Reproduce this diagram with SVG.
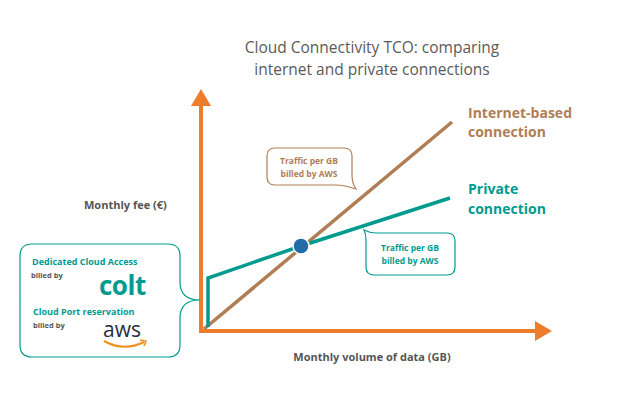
<svg xmlns="http://www.w3.org/2000/svg" width="617" height="417" viewBox="0 0 617 417">
<style>
text{font-family:"Open Sans","Liberation Sans",sans-serif}
.t{font-size:15.5px;fill:#5a5a5a;text-anchor:middle}
.g{font-size:11px;font-weight:bold;fill:#555}
.s{font-size:8.5px;font-weight:bold}
.lb{font-size:14px;font-weight:bold}
</style>
<rect width="617" height="417" fill="#fff"/>
<g id="connectors" fill="none" stroke-width="3.5">
<line x1="204" y1="329" x2="452" y2="122" stroke="#b07e55"/>
<polyline points="208,327 208,278 301,246 450,198" stroke="#009b8f"/>
<polyline points="201,100 201,331 540,331" stroke="#ee7d2b" stroke-width="4"/>
<polygon points="201,89 191,106 211,106" fill="#ee7d2b" stroke="none"/>
<polygon points="552,331 535,321 535,341" fill="#ee7d2b" stroke="none"/>
</g>
<g id="dot"><circle cx="301" cy="246" r="8" fill="#1f6ca8" stroke="#fff" stroke-width="1.5"/></g>
<g id="title"><text class="t" x="372" y="53">Cloud Connectivity TCO: comparing</text><text class="t" x="372" y="75">internet and private connections</text></g>
<g id="internet"><text class="lb" x="468" y="118" fill="#b07e55">Internet-based</text><text class="lb" x="468" y="137" fill="#b07e55">connection</text></g>
<g id="private"><text class="lb" x="468" y="194" fill="#009b8f">Private</text><text class="lb" x="468" y="214" fill="#009b8f">connection</text></g>
<g id="yaxis"><text class="g" x="84" y="209">Monthly fee (€)</text></g>
<g id="xaxis"><text class="g" x="372" y="361" text-anchor="middle">Monthly volume of data (GB)</text></g>
<g id="callout-brown">
<path d="M275,148 H344 Q352,148 352,156 V175 Q352,183 356,189 Q344,185 336,185 H275 Q267,185 267,177 V156 Q267,148 275,148 Z" fill="#fff" stroke="#b07e55" stroke-width="1.2"/>
<text class="s" fill="#b07e55" x="309" y="164" text-anchor="middle">Traffic per GB</text>
<text class="s" fill="#b07e55" x="309" y="177" text-anchor="middle">billed by AWS</text>
</g>
<g id="callout-teal">
<path d="M364,230 Q370,233 376,233 H447 Q455,233 455,241 V267 Q455,275 447,275 H374 Q366,275 366,267 V240 Q366,234 364,230 Z" fill="#fff" stroke="#009b8f" stroke-width="1.2"/>
<text class="s" fill="#009b8f" x="410" y="251" text-anchor="middle">Traffic per GB</text>
<text class="s" fill="#009b8f" x="410" y="264" text-anchor="middle">billed by AWS</text>
</g>
<g id="billing">
<path d="M32,244 H168 Q180,244 180,256 V282 Q180,300 200,300 Q180,300 180,318 V345 Q180,357 168,357 H32 Q20,357 20,345 V256 Q20,244 32,244 Z" fill="#fff" stroke="#009b8f" stroke-width="1.2"/>
<text x="32" y="265" font-size="9" font-weight="bold" fill="#009b8f">Dedicated Cloud Access</text>
<text x="31" y="278" font-size="7.5" font-weight="bold" fill="#555">billed by</text>
<text x="99" y="295" font-size="26" font-weight="bold" fill="#009b8f" letter-spacing="-0.5">colt</text>
<text x="33" y="315" font-size="9" font-weight="bold" fill="#009b8f">Cloud Port reservation</text>
<text x="33" y="328" font-size="7.5" font-weight="bold" fill="#555">billed by</text>
<text x="103" y="337" font-size="21" fill="#232f3e" font-family="Liberation Sans,sans-serif">aws</text>
<path d="M104,341 Q124,352 144,342" fill="none" stroke="#f0901e" stroke-width="2"/>
<path d="M140,340 L146,341 L144,346" fill="none" stroke="#f0901e" stroke-width="1.5"/>
</g>
</svg>
